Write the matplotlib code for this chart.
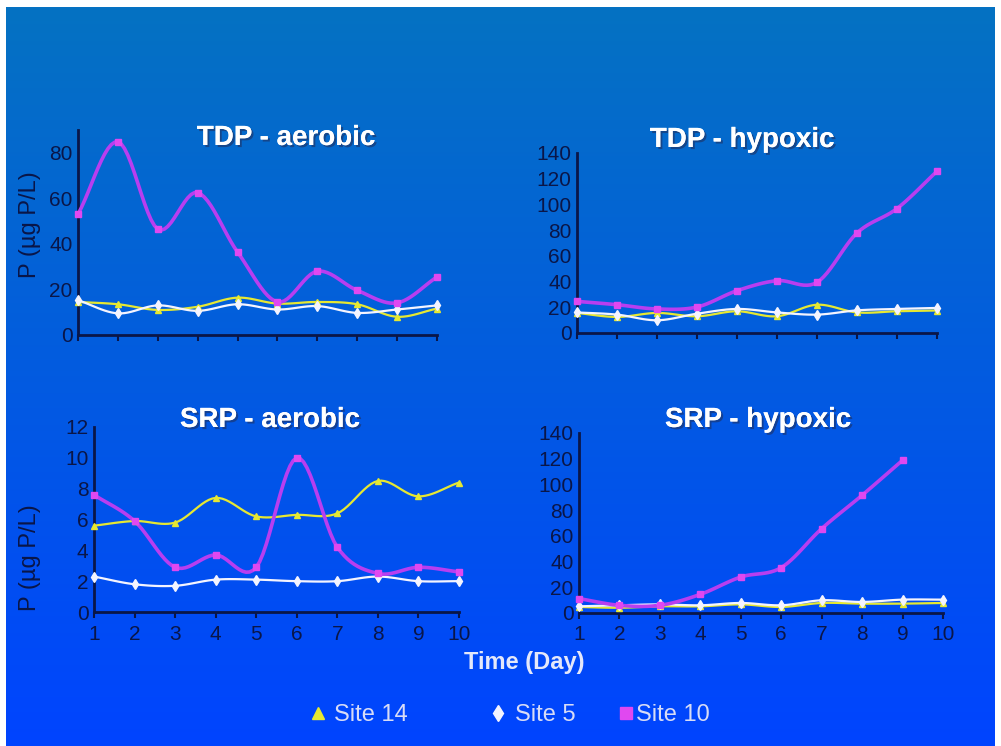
import numpy as np
import matplotlib
matplotlib.use("Agg")
import matplotlib.pyplot as plt
import matplotlib.patheffects as pe
from matplotlib.lines import Line2D

plt.rcParams['font.family'] = ['Liberation Sans', 'DejaVu Sans']

# days on the x axis
days = np.arange(1, 11)
day_labels = [str(d) for d in days]

# TDP - aerobic
tdp_aer_site14 = [14.5, 13.5, 11.0, 12.4, 16.4, 13.8, 14.5, 13.5, 8.0, 11.6]
tdp_aer_site5 = [15.3, 9.5, 13.0, 10.6, 13.5, 11.2, 12.7, 9.7, 11.2, 13.0]
tdp_aer_site10 = [53.0, 84.8, 46.5, 62.5, 36.4, 14.5, 28.0, 19.6, 14.1, 25.5]

# TDP - hypoxic
tdp_hyp_site14 = [15.6, 12.5, 15.6, 13.0, 16.9, 13.0, 22.0, 16.0, 16.9, 17.5]
tdp_hyp_site5 = [16.0, 14.3, 9.9, 15.0, 18.7, 16.0, 14.3, 17.6, 18.7, 19.5]
tdp_hyp_site10 = [24.6, 22.0, 18.7, 20.2, 32.9, 40.7, 39.4, 77.8, 96.8, 125.8]

# SRP - aerobic
srp_aer_site14 = [5.6, 5.9, 5.8, 7.4, 6.2, 6.3, 6.4, 8.5, 7.5, 8.4]
srp_aer_site5 = [2.3, 1.8, 1.7, 2.1, 2.1, 2.0, 2.0, 2.3, 2.0, 2.0]
srp_aer_site10 = [7.6, 5.9, 2.9, 3.7, 2.9, 10.0, 4.2, 2.5, 2.9, 2.6]

# SRP - hypoxic (no Site 10 value on day 10)
srp_hyp_site14 = [4.7, 4.1, 5.2, 5.2, 6.7, 4.7, 7.8, 7.3, 7.3, 7.8]
srp_hyp_site5 = [5.2, 6.0, 6.7, 6.0, 7.8, 6.0, 9.9, 8.6, 10.4, 10.4]
srp_hyp_site10 = [11.2, 6.0, 6.0, 14.5, 28.0, 35.3, 65.6, 91.6, 118.8, np.nan]

site_names = ['Site 14', 'Site 5', 'Site 10']

YELLOW = '#e6e832'
WHITE = '#f4f4ff'
MAGENTA = '#b83ef0'
MAG_MARK = '#e048f0'
NAVY = '#0a1648'


def smooth(x, y, n=12):
    # Catmull-Rom curve through the points, like Excel's smoothed line
    x = np.asarray(x, float)
    y = np.asarray(y, float)
    px = np.concatenate([[2 * x[0] - x[1]], x, [2 * x[-1] - x[-2]]])
    py = np.concatenate([[2 * y[0] - y[1]], y, [2 * y[-1] - y[-2]]])
    xs, ys = [], []
    t = np.linspace(0, 1, n, endpoint=False)
    for i in range(1, len(px) - 2):
        for arr, out in ((px, xs), (py, ys)):
            p0, p1, p2, p3 = arr[i - 1], arr[i], arr[i + 1], arr[i + 2]
            out.extend(0.5 * (2 * p1 + (-p0 + p2) * t
                              + (2 * p0 - 5 * p1 + 4 * p2 - p3) * t ** 2
                              + (-p0 + 3 * p1 - 3 * p2 + p3) * t ** 3))
    xs.append(x[-1])
    ys.append(y[-1])
    return xs, ys


def draw_panel(ax, series, ymax, ystep, title, tpos, show_xlabels):
    styles = [
        dict(color=YELLOW, lw=1.6, marker='^', ms=5, mfc=YELLOW, mec=YELLOW),
        dict(color=WHITE, lw=1.6, marker='d', ms=5, mfc=WHITE, mec=WHITE),
        dict(color=MAGENTA, lw=2.6, marker='s', ms=4.5, mfc=MAG_MARK, mec=MAG_MARK),
    ]
    for vals, st in zip(series, styles):
        vals = np.asarray(vals, float)
        ok = ~np.isnan(vals)
        sx, sy = smooth(days[ok], vals[ok])
        ax.plot(sx, sy, color=st['color'], lw=st['lw'], clip_on=False,
                solid_capstyle='round', zorder=3)
        ax.plot(days[ok], vals[ok], ls='none', marker=st['marker'], ms=st['ms'],
                mfc=st['mfc'], mec=st['mec'], clip_on=False, zorder=4)
    ax.set_xlim(1, 10)
    ax.set_ylim(0, ymax)
    ax.set_yticks(np.arange(0, ymax + 0.1, ystep))
    ax.set_xticks(days)
    if show_xlabels:
        ax.set_xticklabels(day_labels)
    else:
        ax.set_xticklabels([])
    ax.patch.set_visible(False)
    for s in ['top', 'right']:
        ax.spines[s].set_visible(False)
    for s in ['left', 'bottom']:
        ax.spines[s].set_color(NAVY)
        ax.spines[s].set_linewidth(2)
    ax.tick_params(axis='x', colors=NAVY, labelsize=15, length=4, width=1.5,
                   pad=5, labelcolor=NAVY)
    ax.tick_params(axis='y', colors=NAVY, labelsize=15, length=0, pad=4,
                   labelcolor=NAVY)
    fig.text(tpos[0], tpos[1], title, ha='center', va='center', color='white',
             fontsize=20, fontweight='bold',
             path_effects=[pe.withSimplePatchShadow(offset=(1.5, -1.5),
                                                     shadow_rgbFace='#203060',
                                                     alpha=0.6),
                           pe.Normal()])


W, H = 1001, 746
fig = plt.figure(figsize=(W / 100, H / 100), dpi=100)
fig.patch.set_facecolor('white')

# gradient slide background
bg = fig.add_axes([6 / W, 0, 989 / W, 739 / H])
top = np.array([0x05, 0x72, 0xc2]) / 255
bot = np.array([0x00, 0x44, 0xff]) / 255
f = np.linspace(0, 1, 256)[:, None]
grad = (top[None, :] * (1 - f) + bot[None, :] * f)[:, None, :]
bg.imshow(grad, aspect='auto', extent=[0, 1, 0, 1], origin='upper')
bg.set_axis_off()


def box(l, r, b, t):
    return [l / W, 1 - b / H, (r - l) / W, (b - t) / H]


ax1 = fig.add_axes(box(78, 437, 335, 130))
ax2 = fig.add_axes(box(577, 937, 333, 153))
ax3 = fig.add_axes(box(94, 459, 612, 427))
ax4 = fig.add_axes(box(579, 943, 613, 433))

draw_panel(ax1, [tdp_aer_site14, tdp_aer_site5, tdp_aer_site10], 90, 20,
           'TDP - aerobic', (286 / W, 1 - 138 / H), False)
ax1.set_yticks(np.arange(0, 81, 20))
draw_panel(ax2, [tdp_hyp_site14, tdp_hyp_site5, tdp_hyp_site10], 140, 20,
           'TDP - hypoxic', (742 / W, 1 - 140 / H), False)
draw_panel(ax3, [srp_aer_site14, srp_aer_site5, srp_aer_site10], 12, 2,
           'SRP - aerobic', (270 / W, 1 - 420 / H), True)
draw_panel(ax4, [srp_hyp_site14, srp_hyp_site5, srp_hyp_site10], 140, 20,
           'SRP - hypoxic', (758 / W, 1 - 420 / H), True)

for yc in (225, 558):
    fig.text(30 / W, 1 - yc / H, 'P (µg P/L)', rotation=90, ha='center',
             va='center', color=NAVY, fontsize=17)

fig.text(524 / W, 1 - 663 / H, 'Time (Day)', ha='center', va='center',
         color='#e4e8fa', fontsize=17, fontweight='bold')

# legend, one entry per block
leg_marks = [('^', YELLOW), ('d', WHITE), ('s', MAG_MARK)]
leg_x = [309, 489, 617]
leg_pad = [0.25, 0.3, 0.0]
for name, (mk, col), lx, tp in zip(site_names, leg_marks, leg_x, leg_pad):
    h = Line2D([], [], ls='none', marker=mk, ms=8, mfc=col, mec=col)
    fig.legend([h], [name], loc='center left', bbox_to_anchor=(lx / W, 1 - 715 / H),
               frameon=False, handlelength=0.8, handletextpad=tp,
               borderaxespad=0, borderpad=0, fontsize=17, labelcolor='#d8dcf6')

fig.savefig('out.png', dpi=100, facecolor=fig.get_facecolor())
